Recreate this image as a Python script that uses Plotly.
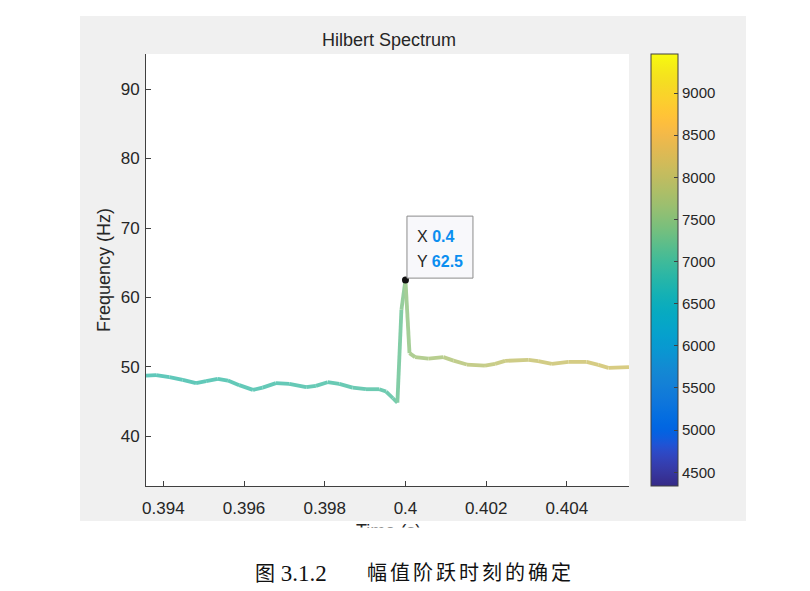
import numpy as np
import plotly.graph_objects as go

# Instantaneous frequency of the dominant IMF around the amplitude step
time_s = [0.39357, 0.39382, 0.39415, 0.39448, 0.39481, 0.39506, 0.39535, 0.39560,
          0.39588, 0.39622, 0.39646, 0.39679, 0.39712, 0.39754, 0.39778, 0.39807,
          0.39836, 0.39869, 0.39902, 0.39935, 0.39952, 0.39969, 0.39980, 0.39990,
          0.40000, 0.40010, 0.40024, 0.40057, 0.40094, 0.40119, 0.40152, 0.40197,
          0.40222, 0.40247, 0.40305, 0.40329, 0.40363, 0.40404, 0.40449, 0.40478,
          0.40503, 0.40554]
freq_hz = [48.76, 48.82, 48.53, 48.14, 47.67, 47.95, 48.29, 48.04,
           47.38, 46.70, 47.03, 47.67, 47.56, 47.09, 47.28, 47.81,
           47.56, 47.03, 46.80, 46.80, 46.46, 45.50, 44.87, 58.23,
           62.5, 51.99, 51.41, 51.21, 51.41, 50.92, 50.35, 50.20,
           50.45, 50.88, 51.02, 50.84, 50.45, 50.73, 50.73, 50.30,
           49.87, 49.97]
energy = [6850, 6855, 6860, 6865, 6870, 6875, 6880, 6885,
          6890, 6895, 6900, 6910, 6920, 6930, 6940, 6950,
          6960, 6975, 6990, 7000, 7020, 7050, 7100, 7300,
          7450, 7600, 7650, 7700, 7760, 7800, 7850, 7900,
          7930, 7960, 8000, 8020, 8040, 8060, 8080, 8100,
          8110, 8120]

# Selected data tip
tip_x = [0.4]
tip_y = [62.5]

x_ticks = [0.394, 0.396, 0.398, 0.4, 0.402, 0.404]
x_ticktext = ["0.394", "0.396", "0.398", "0.4", "0.402", "0.404"]
y_ticks = [40, 50, 60, 70, 80, 90]
cbar_ticks = [4500, 5000, 5500, 6000, 6500, 7000, 7500, 8000, 8500, 9000]
c_min, c_max = 4337, 9463

PARULA = [
    [0.2081, 0.1663, 0.5292], [0.2116, 0.1898, 0.5777], [0.2123, 0.2138, 0.6270], [0.2081, 0.2386, 0.6771],
    [0.1959, 0.2645, 0.7279], [0.1707, 0.2919, 0.7792], [0.1253, 0.3242, 0.8303], [0.0591, 0.3598, 0.8683],
    [0.0117, 0.3875, 0.8820], [0.0060, 0.4086, 0.8828], [0.0165, 0.4266, 0.8786], [0.0329, 0.4430, 0.8720],
    [0.0498, 0.4586, 0.8641], [0.0629, 0.4737, 0.8554], [0.0723, 0.4887, 0.8467], [0.0779, 0.5040, 0.8384],
    [0.0793, 0.5200, 0.8312], [0.0749, 0.5375, 0.8263], [0.0641, 0.5570, 0.8240], [0.0488, 0.5772, 0.8228],
    [0.0343, 0.5966, 0.8199], [0.0265, 0.6137, 0.8135], [0.0239, 0.6287, 0.8038], [0.0231, 0.6418, 0.7913],
    [0.0228, 0.6535, 0.7768], [0.0267, 0.6642, 0.7607], [0.0384, 0.6743, 0.7436], [0.0590, 0.6838, 0.7254],
    [0.0843, 0.6928, 0.7062], [0.1133, 0.7015, 0.6859], [0.1453, 0.7098, 0.6646], [0.1801, 0.7177, 0.6424],
    [0.2178, 0.7250, 0.6193], [0.2586, 0.7317, 0.5954], [0.3022, 0.7376, 0.5712], [0.3482, 0.7424, 0.5473],
    [0.3953, 0.7459, 0.5244], [0.4420, 0.7481, 0.5033], [0.4871, 0.7491, 0.4840], [0.5300, 0.7491, 0.4661],
    [0.5709, 0.7485, 0.4494], [0.6099, 0.7473, 0.4337], [0.6473, 0.7456, 0.4188], [0.6834, 0.7435, 0.4044],
    [0.7184, 0.7411, 0.3905], [0.7525, 0.7384, 0.3768], [0.7858, 0.7356, 0.3633], [0.8185, 0.7327, 0.3498],
    [0.8507, 0.7299, 0.3360], [0.8824, 0.7274, 0.3217], [0.9139, 0.7258, 0.3063], [0.9450, 0.7261, 0.2886],
    [0.9739, 0.7314, 0.2666], [0.9938, 0.7455, 0.2403], [0.9990, 0.7653, 0.2164], [0.9955, 0.7861, 0.1967],
    [0.9880, 0.8066, 0.1794], [0.9789, 0.8271, 0.1633], [0.9697, 0.8481, 0.1475], [0.9626, 0.8705, 0.1309],
    [0.9589, 0.8949, 0.1132], [0.9598, 0.9218, 0.0948], [0.9661, 0.9514, 0.0755], [0.9763, 0.9831, 0.0538],
]
parula_scale = [[i / (len(PARULA) - 1),
                 "rgb({:.0f},{:.0f},{:.0f})".format(*(255 * np.array(c)))]
                for i, c in enumerate(PARULA)]
_par = np.array(PARULA)
_pos = np.linspace(0, 1, len(PARULA))


def parula_rgb(value, alpha=0.76):
    """Colour of an energy value on the parula scale, drawn semi-transparent on white."""
    t = np.clip((value - c_min) / (c_max - c_min), 0, 1)
    rgb = np.array([np.interp(t, _pos, _par[:, k]) for k in range(3)])
    rgb = alpha * rgb + (1 - alpha) * 1.0
    return "rgb({:.0f},{:.0f},{:.0f})".format(*(255 * rgb))


# Layout geometry (pixels)
W, H = 810, 591
L, R, T, B = 146, 181, 54, 105
PW, PH = W - L - R, H - T - B


def px_x(px):
    return (px - L) / PW


def px_y(py):
    return (H - B - py) / PH


fig = go.Figure()

# Spectrum line, coloured segment by segment from the energy
for i in range(len(time_s) - 1):
    fig.add_trace(go.Scatter(
        x=time_s[i:i + 2], y=freq_hz[i:i + 2], mode="lines",
        line=dict(color=parula_rgb(0.5 * (energy[i] + energy[i + 1])), width=3.8),
        hoverinfo="skip", showlegend=False))

# Energy carrier for the colour bar
fig.add_trace(go.Scatter(
    x=time_s, y=freq_hz, mode="markers",
    marker=dict(color=energy, coloraxis="coloraxis", size=1, opacity=0),
    hoverinfo="skip", showlegend=False))

# Data tip marker
fig.add_trace(go.Scatter(
    x=tip_x, y=tip_y, mode="markers",
    marker=dict(color="#111111", size=7),
    hoverinfo="skip", showlegend=False))

axis_col = "#404040"
text_col = "#262626"
base_font = "Liberation Sans, Arial, sans-serif"

fig.update_layout(
    width=W, height=H,
    margin=dict(l=L, r=R, t=T, b=B, pad=0),
    paper_bgcolor="white", plot_bgcolor="white",
    font=dict(family=base_font, size=16, color=text_col),
    showlegend=False,
    xaxis=dict(range=[0.39357, 0.40554], tickvals=x_ticks, ticktext=x_ticktext,
               ticks="inside", ticklen=5, tickcolor=axis_col, showline=True,
               linecolor=axis_col, linewidth=1, showgrid=False, zeroline=False,
               tickfont=dict(size=17, color=text_col), mirror=False,
               ticklabelstandoff=7),
    yaxis=dict(range=[32.87, 95.04], tickvals=y_ticks,
               ticks="inside", ticklen=5, tickcolor=axis_col, showline=True,
               linecolor=axis_col, linewidth=1, showgrid=False, zeroline=False,
               tickfont=dict(size=17, color=text_col), mirror=False,
               ticklabelstandoff=2),
    coloraxis=dict(
        colorscale=parula_scale, cmin=c_min, cmax=c_max,
        colorbar=dict(
            x=px_x(651), xanchor="left", xpad=0, y=0.5, yanchor="middle", ypad=0,
            lenmode="pixels", len=PH, thicknessmode="pixels", thickness=27,
            tickvals=cbar_ticks, ticks="inside", ticklen=4, tickcolor=axis_col,
            outlinecolor=axis_col, outlinewidth=1,
            tickfont=dict(size=15, color=text_col)),
    ),
)

# Figure window panel and the white axes area
fig.add_shape(type="rect", xref="paper", yref="paper",
              x0=px_x(80), x1=px_x(746), y0=px_y(521), y1=px_y(16),
              fillcolor="#f0f0f0", line=dict(width=0), layer="below")
fig.add_shape(type="rect", xref="paper", yref="paper",
              x0=0, x1=1, y0=0, y1=1,
              fillcolor="white", line=dict(width=0), layer="below")

# Data tip box
fig.add_shape(type="rect", xref="x", yref="y",
              xsizemode="pixel", ysizemode="pixel",
              xanchor=tip_x[0], yanchor=tip_y[0],
              x0=1.5, x1=67.5, y0=2, y1=64,
              fillcolor="#f8f8fb", line=dict(color="#8c8c8c", width=1), layer="above")

value_col = "#0b8ef0"
fig.add_annotation(x=tip_x[0], y=tip_y[0], xref="x", yref="y", showarrow=False,
                   xanchor="left", yanchor="middle", xshift=10, yshift=44,
                   text=f'X <span style="color:{value_col}"><b>{tip_x[0]:g}</b></span>',
                   font=dict(size=16, color=text_col))
fig.add_annotation(x=tip_x[0], y=tip_y[0], xref="x", yref="y", showarrow=False,
                   xanchor="left", yanchor="middle", xshift=10, yshift=19,
                   text=f'Y <span style="color:{value_col}"><b>{tip_y[0]:g}</b></span>',
                   font=dict(size=16, color=text_col))

# Titles
fig.add_annotation(x=px_x(389), y=px_y(40), xref="paper", yref="paper", showarrow=False,
                   text="Hilbert Spectrum", font=dict(size=18, color=text_col),
                   xanchor="center", yanchor="middle")
fig.add_annotation(x=px_x(104), y=px_y(270), xref="paper", yref="paper", showarrow=False,
                   text="Frequency (Hz)", textangle=-90, font=dict(size=18, color=text_col),
                   xanchor="center", yanchor="middle")
fig.add_annotation(x=px_x(388), y=px_y(519), xref="paper", yref="paper", showarrow=False,
                   text="Time (s)", font=dict(size=18, color=text_col),
                   xanchor="center", yanchor="top")
# The figure is trimmed just below the axis, cutting through the x label
fig.add_annotation(x=px_x(388), y=px_y(527), xref="paper", yref="paper", showarrow=False,
                   text=" ", width=200, height=24, bgcolor="white", borderpad=0,
                   xanchor="center", yanchor="top")

# Caption
cap_font = "Times New Roman, Liberation Serif, Noto Sans CJK SC, serif"
fig.add_annotation(x=px_x(253), y=px_y(573), xref="paper", yref="paper", showarrow=False,
                   text='<span style="font-size:20px">图</span> 3.1.2',
                   font=dict(size=23, color="#111111", family=cap_font),
                   xanchor="left", yanchor="middle")
fig.add_annotation(x=px_x(365), y=px_y(573), xref="paper", yref="paper", showarrow=False,
                   text='<span style="letter-spacing:3px">幅值阶跃时刻的确定</span>',
                   font=dict(size=20, color="#111111", family=cap_font),
                   xanchor="left", yanchor="middle")

fig.write_html("out.html")
